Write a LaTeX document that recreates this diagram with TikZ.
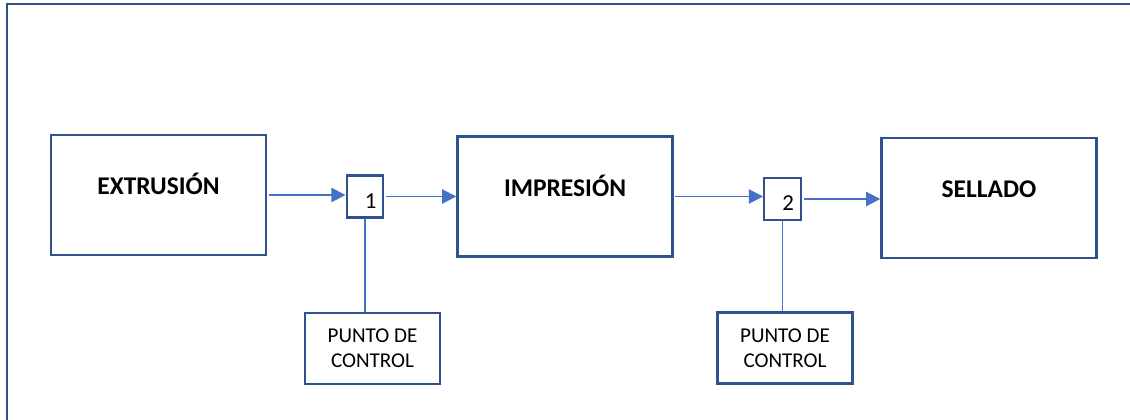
\documentclass[tikz,border=0pt]{standalone}
\usepackage{fontspec}
\setmainfont{Carlito}
\usetikzlibrary{arrows.meta,positioning}
\definecolor{boxblue}{RGB}{47,82,143}
\definecolor{lineblue}{RGB}{68,114,196}

\begin{document}
\begin{tikzpicture}[
  proc/.style={draw=boxblue, line width=1.4pt, minimum width=4.3cm, minimum height=2.4cm,
    font=\fontsize{14.5}{16}\selectfont\bfseries, text height=1ex, text depth=1ex},
  chk/.style={draw=boxblue, line width=1.4pt, minimum width=0.73cm, minimum height=0.84cm,
    inner xsep=3.5pt, inner ysep=2pt, text width=13pt, align=right,
    font=\fontsize{13}{14}\selectfont, text height=13.5pt, text depth=0.4pt},
  ctrl/.style={draw=boxblue, line width=1.4pt, minimum width=2.7cm, minimum height=1.42cm,
    align=center, font=\fontsize{12}{14}\selectfont},
  flow/.style={draw=lineblue, line width=1.1pt, shorten <=1pt, -{Triangle[length=8pt,width=8pt]}},
  tap/.style={draw=lineblue, line width=0.8pt}
]
\clip (0,0) rectangle (22.6,8.4);
\draw[boxblue, line width=1.4pt] (0.14,-1) rectangle (23.5,8.32);

\node[proc] (ext) at (3.17,4.5)  {EXTRUSIÓN};
\node[chk]  (c1)  at (7.3,4.47)  {1};
\node[proc] (imp) at (11.3,4.47) {IMPRESIÓN};
\node[chk]  (c2)  at (15.65,4.42) {2};
\node[proc] (sel) at (19.78,4.44) {SELLADO};

\node[ctrl] (pc1) at (7.45,1.43) {PUNTO DE\\CONTROL};
\node[ctrl] (pc2) at (15.7,1.44) {PUNTO DE\\CONTROL};

% flujo del proceso
\draw[flow] (ext.east) -- (ext.east -| c1.west);
\draw[flow] (c1.east) -- (c1.east -| imp.west);
\draw[flow] (imp.east) -- (imp.east -| c2.west);
\draw[flow] (c2.east) -- (c2.east -| sel.west);

% puntos de control
\draw[tap] (c1.south) -- (c1.south |- pc1.north);
\draw[tap] (c2.south) -- (c2.south |- pc2.north);
\end{tikzpicture}
\end{document}
